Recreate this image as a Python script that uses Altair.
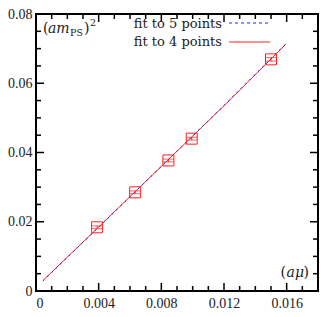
import altair as alt
import pandas as pd

# ---- data ----
fit_x = [0.00044, 0.004, 0.008, 0.012, 0.01595]
fit4_y = [0.0030, 0.0185, 0.0360, 0.0535, 0.0713]
fit5_y = [0.0029, 0.0184, 0.0360, 0.0536, 0.0714]

pt_x = [0.0039, 0.00633, 0.00845, 0.00994, 0.0150]
pt_y = [0.0184, 0.0285, 0.0377, 0.0440, 0.0669]
pt_err = [0.0004, 0.0004, 0.0004, 0.0004, 0.0005]

x_major = [0, 0.004, 0.008, 0.012, 0.016]
x_minor = [0.001, 0.002, 0.003, 0.005, 0.006, 0.007, 0.009, 0.010, 0.011,
           0.013, 0.014, 0.015, 0.017]
y_major = [0, 0.02, 0.04, 0.06, 0.08]
y_minor = [0.005, 0.010, 0.015, 0.025, 0.030, 0.035, 0.045, 0.050, 0.055,
           0.065, 0.070, 0.075]

W, H = 282, 277
RED = "#ff2020"
BLUE = "#2020ff"
TXT = "#222222"
SERIF = "DejaVu Serif"

xs = alt.Scale(domain=[0, 0.018], nice=False, zero=False)
ys = alt.Scale(domain=[0, 0.08], nice=False, zero=False)

pts = pd.DataFrame({"x": pt_x, "y": pt_y, "e": pt_err})
pts["lo"] = pts["y"] - pts["e"]
pts["hi"] = pts["y"] + pts["e"]

xaxis = alt.Axis(values=x_major, domain=False, ticks=False, grid=False, title=None,
                 labelFont="Liberation Serif", labelFontSize=14, labelColor=TXT,
                 labelPadding=5,
                 labelExpr="datum.value == 0 ? '0' : format(datum.value, '.3f')")
yaxis = alt.Axis(values=y_major, domain=False, ticks=False, grid=False, title=None,
                 labelFont="Liberation Serif", labelFontSize=14, labelColor=TXT,
                 labelPadding=4,
                 labelExpr="datum.value == 0 ? '0' : format(datum.value, '.2f')")

red_line = alt.Chart(pd.DataFrame({"x": fit_x, "y": fit4_y})).mark_line(
    color=RED, strokeWidth=1).encode(
    x=alt.X("x:Q", scale=xs, axis=xaxis), y=alt.Y("y:Q", scale=ys, axis=yaxis))
blue_line = alt.Chart(pd.DataFrame({"x": fit_x, "y": fit5_y})).mark_line(
    color=BLUE, strokeWidth=1, strokeDash=[2, 4]).encode(
    x=alt.X("x:Q", scale=xs), y=alt.Y("y:Q", scale=ys))

boxes = alt.Chart(pts).mark_point(shape="square", filled=False, size=121,
                                  color=RED, strokeWidth=1, opacity=1).encode(
    x=alt.X("x:Q", scale=xs), y=alt.Y("y:Q", scale=ys))
caps_lo = alt.Chart(pts).mark_tick(orient="horizontal", size=11, thickness=1,
                                   color=RED).encode(
    x=alt.X("x:Q", scale=xs), y=alt.Y("lo:Q", scale=ys))
caps_hi = alt.Chart(pts).mark_tick(orient="horizontal", size=11, thickness=1,
                                   color=RED).encode(
    x=alt.X("x:Q", scale=xs), y=alt.Y("hi:Q", scale=ys))
bars = alt.Chart(pts).mark_rule(color=RED, strokeWidth=1).encode(
    x=alt.X("x:Q", scale=xs), y=alt.Y("lo:Q", scale=ys), y2="hi:Q")


def tick_layer(vals, axis, length):
    df = pd.DataFrame({"v": vals})
    layers = []
    if axis == "x":
        for y0, y1 in [(H, H - length), (0, length)]:
            layers.append(alt.Chart(df).mark_rule(color="black", strokeWidth=1.5).encode(
                x=alt.X("v:Q", scale=xs), y=alt.value(y0), y2=alt.value(y1)))
    else:
        for x0, x1 in [(0, length), (W, W - length)]:
            layers.append(alt.Chart(df).mark_rule(color="black", strokeWidth=1.5).encode(
                y=alt.Y("v:Q", scale=ys), x=alt.value(x0), x2=alt.value(x1)))
    return layers


ticks = (tick_layer(x_major, "x", 8) + tick_layer(x_minor, "x", 5) +
         tick_layer(y_major, "y", 8) + tick_layer(y_minor, "y", 5))

one = pd.DataFrame({"a": [0]})


def txt(s, x, y, size=13, style="normal", align="left", baseline="alphabetic"):
    return alt.Chart(one).mark_text(text=s, font=SERIF, fontSize=size, fontStyle=style,
                                    align=align, baseline=baseline, color=TXT).encode(
        x=alt.value(x), y=alt.value(y))


legend = [
    txt("fit to 5 points", 186, 14, align="right"),
    txt("fit to 4 points", 186, 32, align="right"),
    alt.Chart(one).mark_rule(color=BLUE, strokeWidth=1, strokeDash=[3, 3]).encode(
        x=alt.value(193), x2=alt.value(234), y=alt.value(9)),
    alt.Chart(one).mark_rule(color=RED, strokeWidth=1).encode(
        x=alt.value(193), x2=alt.value(234), y=alt.value(28)),
]

ylabel = [
    txt("(", 7, 19, size=14),
    txt("am", 12, 19, size=14, style="italic"),
    txt("PS", 34, 22, size=9.5),
    txt(")", 48, 19, size=14),
    txt("2", 54, 12, size=9.5),
]
xlabel = [
    txt(")", W - 9, H - 14, size=14, align="right"),
    txt("aμ", W - 14, H - 14, size=14, style="italic", align="right"),
    txt("(", W - 32, H - 14, size=14, align="right"),
]

chart = alt.layer(red_line, blue_line, bars, caps_lo, caps_hi, boxes,
                  *ticks, *legend, *ylabel, *xlabel).properties(
    width=W, height=H, autosize="none",
    padding={"left": 28, "top": 6, "right": 1, "bottom": 18},
).configure_view(stroke="black", strokeWidth=2)

chart.save("out.html", embed_options={"renderer": "svg", "actions": False})
